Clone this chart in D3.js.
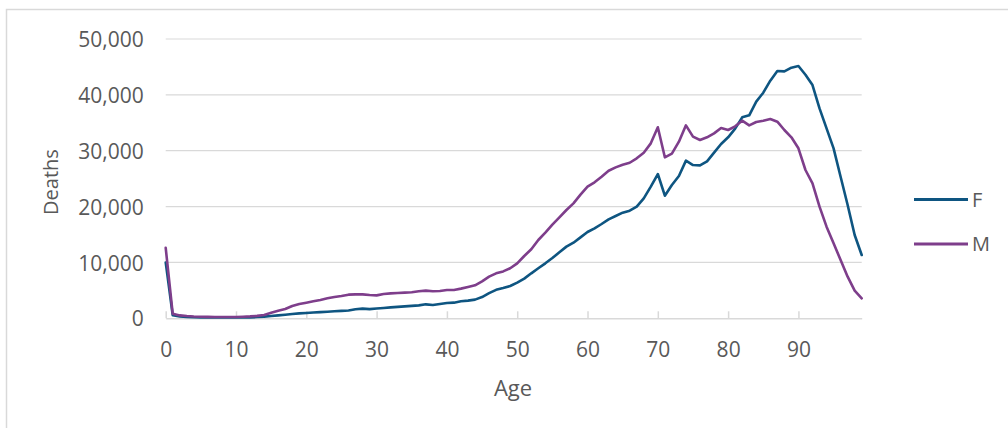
<!DOCTYPE html>
<html>
<head>
<meta charset="utf-8">
<script src="https://cdn.jsdelivr.net/npm/d3@7"></script>
<style>
  html, body { margin: 0; padding: 0; background: #ffffff; }
  svg { display: block; }
  text { font-family: "Open Sans", "DejaVu Sans", sans-serif; fill: #595959; }
</style>
</head>
<body>
<svg id="chart" width="1008" height="428"></svg>
<script>
// Deaths by single year of age, females and males
const ages = d3.range(0, 100);

const deathsF = [
  10000, 550, 330, 250, 200, 170, 150, 140, 130, 130,
  140, 150, 170, 220, 300, 400, 520, 640, 780, 880,
  960, 1040, 1110, 1180, 1250, 1330, 1400, 1630, 1740, 1640,
  1750, 1850, 1950, 2040, 2130, 2220, 2320, 2500, 2380, 2560,
  2740, 2800, 3040, 3160, 3340, 3800, 4500, 5100, 5420, 5780,
  6380, 7100, 8050, 8950, 9840, 10790, 11810, 12830, 13540, 14490,
  15450, 16110, 16880, 17720, 18310, 18910, 19270, 19980, 21470, 23560,
  25830, 21950, 23870, 25470, 28220, 27440, 27380, 28100, 29650, 31200,
  32400, 33950, 35980, 36340, 38780, 40390, 42540, 44270, 44210, 44870,
  45160, 43610, 41760, 37580, 34000, 30430, 25350, 20280, 14910, 11330
];

const deathsM = [
  12600, 800, 520, 400, 320, 280, 250, 230, 220, 220,
  240, 280, 340, 430, 600, 1000, 1360, 1660, 2200, 2560,
  2800, 3040, 3280, 3580, 3810, 3990, 4230, 4290, 4290, 4170,
  4100, 4350, 4470, 4530, 4600, 4650, 4830, 4950, 4830, 4900,
  5070, 5070, 5310, 5600, 5900, 6600, 7450, 8050, 8400, 8950,
  9840, 11150, 12350, 14020, 15330, 16760, 18070, 19390, 20580, 22130,
  23560, 24340, 25350, 26420, 27020, 27500, 27850, 28640, 29650, 31320,
  34190, 28820, 29470, 31620, 34540, 32520, 31920, 32400, 33110, 34070,
  33710, 34370, 35380, 34540, 35140, 35380, 35680, 35200, 33710, 32400,
  30430, 26550, 24160, 19980, 16400, 13420, 10440, 7450, 4950, 3580
];

const seriesNames = ["F", "M"];
const seriesColors = ["#0e5581", "#7e3e8b"];
const yTicks = [0, 10000, 20000, 30000, 40000, 50000];
const xTicks = [0, 10, 20, 30, 40, 50, 60, 70, 80, 90];

const svg = d3.select("#chart");

// outer chart frame (only its top and left edges fall inside the view)
svg.append("rect")
  .attr("x", 6.5).attr("y", 9.5)
  .attr("width", 1020).attr("height", 440)
  .attr("fill", "none")
  .attr("stroke", "#d9d9d9")
  .attr("stroke-width", 1.5);

const x = d3.scaleLinear().domain([0, 99]).range([165.7, 861.7]);
const y = d3.scaleLinear().domain([0, 50000]).range([318.3, 39]);

// horizontal gridlines
svg.append("g")
  .selectAll("line")
  .data(yTicks.filter(d => d > 0))
  .join("line")
  .attr("x1", x(0)).attr("x2", x(99))
  .attr("y1", d => y(d)).attr("y2", d => y(d))
  .attr("stroke", "#d9d9d9")
  .attr("stroke-width", 1.2);

// y axis labels
const yAxis = d3.axisLeft(y)
  .tickValues(yTicks)
  .tickSize(0)
  .tickPadding(22)
  .tickFormat(d3.format(","));
const gy = svg.append("g")
  .attr("transform", `translate(${x(0)},0)`)
  .call(yAxis);
gy.select(".domain").remove();
gy.selectAll("text")
  .attr("font-size", 21)
  .attr("font-family", "'Open Sans', sans-serif")
  .attr("fill", "#5f5f5f")
  .attr("dy", "0.36em");

// x axis: baseline with inward tick marks
const xAxis = d3.axisTop(x)
  .tickValues(xTicks)
  .tickSize(7)
  .tickSizeOuter(0)
  .tickFormat(d3.format("d"));
const gx = svg.append("g")
  .attr("transform", `translate(0,${y(0)})`)
  .call(xAxis);
gx.select(".domain").attr("stroke", "#d9d9d9").attr("stroke-width", 1.5);
gx.selectAll(".tick line").attr("stroke", "#d9d9d9").attr("stroke-width", 1.5);
gx.selectAll("text")
  .attr("y", 39)
  .attr("dy", 0)
  .attr("font-size", 21)
  .attr("font-family", "'Open Sans', sans-serif")
  .attr("fill", "#5f5f5f");

// series lines
const line = d3.line()
  .x((d, i) => x(ages[i]))
  .y(d => y(d));

[deathsF, deathsM].forEach((vals, k) => {
  svg.append("path")
    .datum(vals)
    .attr("d", line)
    .attr("fill", "none")
    .attr("stroke", seriesColors[k])
    .attr("stroke-width", 2.6)
    .attr("stroke-linejoin", "round")
    .attr("stroke-linecap", "round");
});

// axis titles
svg.append("text")
  .attr("x", 513)
  .attr("y", 396)
  .attr("text-anchor", "middle")
  .attr("font-size", 22)
  .attr("fill", "#5f5f5f")
  .text("Age");

svg.append("text")
  .attr("transform", "translate(58,182) rotate(-90)")
  .attr("text-anchor", "middle")
  .attr("font-size", 20)
  .attr("fill", "#5f5f5f")
  .text("Deaths");

// legend
const legend = svg.append("g");
seriesNames.forEach((name, k) => {
  const ly = 199.5 + k * 44.5;
  legend.append("line")
    .attr("x1", 914).attr("x2", 968)
    .attr("y1", ly).attr("y2", ly)
    .attr("stroke", seriesColors[k])
    .attr("stroke-width", 2.8);
  legend.append("text")
    .attr("x", 972)
    .attr("y", ly)
    .attr("dy", "0.36em")
    .attr("font-size", 20)
    .attr("fill", "#5f5f5f")
    .text(name);
});
</script>
</body>
</html>
